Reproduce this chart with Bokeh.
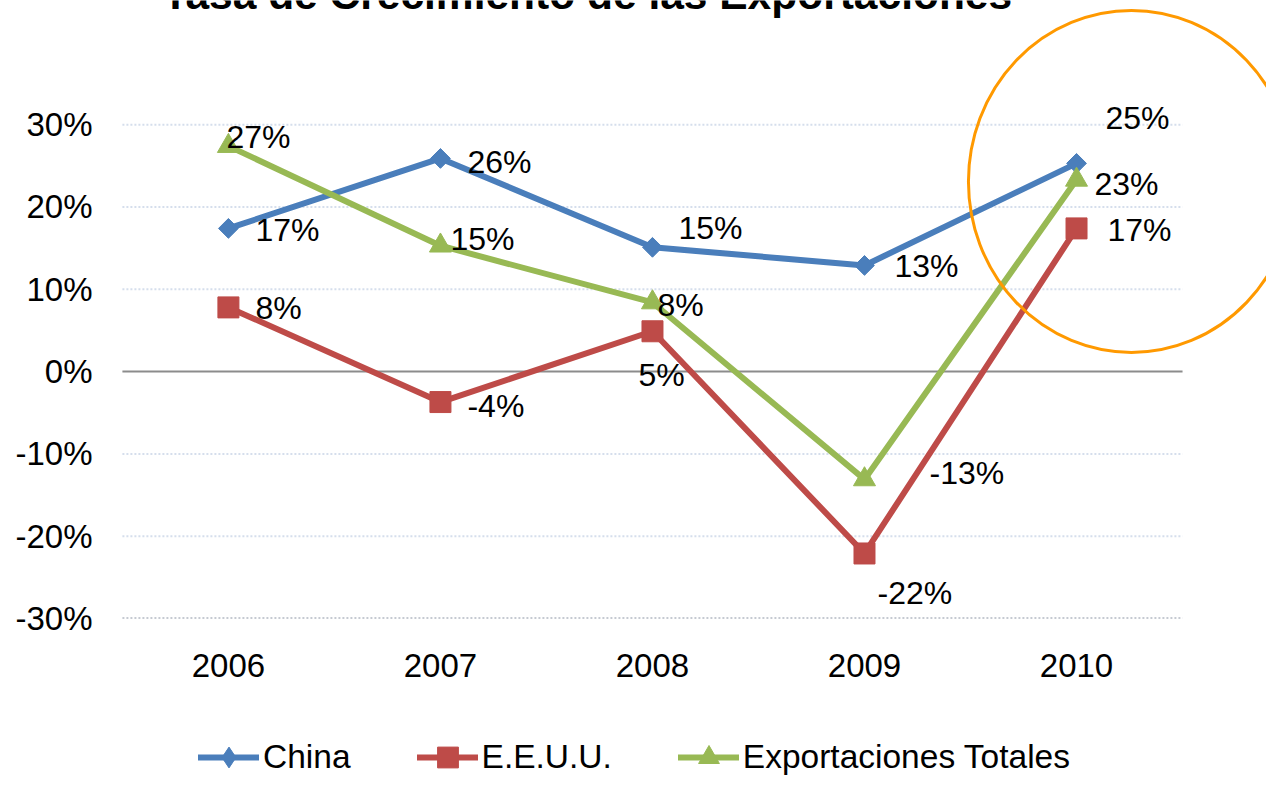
import numpy as np
from bokeh.plotting import figure
from bokeh.layouts import column
from bokeh.models import Range1d, FixedTicker, Legend, LegendItem, Label, ColumnDataSource
from bokeh.core.properties import value
from bokeh.embed import file_html
from bokeh.resources import INLINE

# ---------------- data ----------------
TITLE = "Tasa de Crecimiento de las Exportaciones"
years = ["2006", "2007", "2008", "2009", "2010"]
series_names = ["China", "E.E.U.U.", "Exportaciones Totales"]
china = [17.4, 25.9, 15.1, 12.9, 25.3]
eeuu = [7.8, -3.7, 4.9, -22.1, 17.4]
total = [27.4, 15.3, 8.4, -13.1, 23.3]
y_ticks = [-30, -20, -10, 0, 10, 20, 30]
y_tick_labels = ["-30%", "-20%", "-10%", "0%", "10%", "20%", "30%"]

# ---------------- styles ----------------
FONT = "Liberation Sans"
colors = ["#4A7EBB", "#BE4B48", "#98B954"]
markers = [dict(marker="square", angle=np.pi / 4, size=14),
           dict(marker="square", angle=0.0, size=21),
           dict(marker="triangle", angle=0.0, size=22)]
legend_markers = ["diamond", "square", "triangle"]
# data-label pixel offsets (dx, dy) relative to each point
label_offsets = [
    [(27, 2), (27, 4), (26, -19), (30, 1), (29, -45)],
    [(27, 1), (27, 4), (-14, 44), (13, 40), (31, 2)],
    [(-2, -9), (10, -7), (5, 3), (65, -6), (18, 4)],
]

W = 1266
H_MAIN, H_LEG = 736, 40
p = figure(width=W, height=H_MAIN, output_backend="svg", toolbar_location=None,
           x_range=Range1d(-0.509, 4.896), y_range=Range1d(-30, 45.09),
           min_border_left=120, min_border_right=0, min_border_top=0,
           min_border_bottom=H_MAIN - 618)
p.outline_line_color = None
p.xgrid.visible = False
p.ygrid.visible = False
p.background_fill_color = "white"
p.border_fill_color = "white"

idx = list(range(len(years)))
x_lo, x_hi = -0.5, len(years) - 0.5

# gridlines
for t in y_ticks:
    if t == 0:
        p.segment(x0=[x_lo], y0=[t], x1=[x_hi], y1=[t], line_color="#8C8C8C", line_width=2)
    elif t == min(y_ticks):
        p.segment(x0=[x_lo], y0=[t], x1=[x_hi], y1=[t], line_color="#8E96A6",
                  line_width=2, line_dash="2 2")
    else:
        p.segment(x0=[x_lo], y0=[t], x1=[x_hi], y1=[t], line_color="#D5DEEC",
                  line_width=2, line_dash="2 2")

# axes
p.xaxis.ticker = FixedTicker(ticks=idx)
p.xaxis.major_label_overrides = {i: yr for i, yr in enumerate(years)}
p.yaxis.ticker = FixedTicker(ticks=y_ticks)
p.yaxis.major_label_overrides = {t: lab for t, lab in zip(y_ticks, y_tick_labels)}
for ax in (p.xaxis[0], p.yaxis[0]):
    ax.axis_line_color = None
    ax.major_tick_line_color = None
    ax.minor_tick_line_color = None
    ax.major_tick_in = 0
    ax.major_tick_out = 0
    ax.minor_tick_in = 0
    ax.minor_tick_out = 0
    ax.major_label_text_font = FONT
    ax.major_label_text_font_size = "33px"
    ax.major_label_text_color = "black"
p.yaxis.major_label_standoff = 28
p.xaxis.major_label_standoff = 35

# legend strip (separate figure below the chart)
lg = figure(width=W, height=H_LEG, output_backend="svg", toolbar_location=None,
            x_range=Range1d(0, 1), y_range=Range1d(1000, 1001),
            x_axis_type=None, y_axis_type=None,
            min_border_left=0, min_border_right=0, min_border_top=0, min_border_bottom=0)
lg.outline_line_color = None
lg.xgrid.visible = False
lg.ygrid.visible = False

# series
all_series = [china, eeuu, total]
items = []
sources = []
for name, vals, col, mk, lmk, offs in zip(series_names, all_series, colors, markers,
                                          legend_markers, label_offsets):
    src = ColumnDataSource(dict(
        x=idx, y=vals,
        label=[f"{v:.0f}%" for v in vals],
        dx=[o[0] for o in offs], dy=[o[1] for o in offs],
    ))
    sources.append(src)
    p.line(x="x", y="y", source=src, line_color=col, line_width=6,
           line_join="round", line_cap="round")
    p.scatter(x="x", y="y", source=src, marker=mk["marker"], angle=mk["angle"],
              size=mk["size"], fill_color=col, line_color=col, line_width=1)
    # same series in the legend strip (out of its visible range; only the key shows)
    rl = lg.line(x="x", y="y", source=src, line_color=col, line_width=6, line_cap="round")
    rm = lg.scatter(x="x", y="y", source=src, marker=lmk,
                    fill_color=col, line_color=col, line_width=1)
    items.append(LegendItem(label=name, renderers=[rl, rm]))

for src in sources:
    p.text(x="x", y="y", text="label", x_offset="dx", y_offset="dy", source=src,
           text_font=value(FONT), text_font_size="32px", text_color="black",
           text_align="left", text_baseline="middle")

# highlight ellipse around the last year
p.ellipse(x=[idx[-1] + 0.259], y=[23.1], width=326, height=342,
          width_units="screen", height_units="screen",
          fill_color=None, line_color="#FF9900", line_width=3)

# title (cut at the top, as in the original)
p.add_layout(Label(x=1.693, y=45.8, text=TITLE, text_font=FONT, text_font_style="bold",
                   text_font_size="42.5px", text_color="black",
                   text_align="center", text_baseline="alphabetic"))

legend = Legend(items=items, orientation="horizontal", location=(78, -7),
                glyph_width=61, glyph_height=52, label_standoff=4, spacing=66,
                padding=0, margin=0, border_line_color=None, background_fill_alpha=0,
                label_text_font=FONT, label_text_font_size="33.5px", label_text_color="black")
lg.add_layout(legend)

layout = column(p, lg, spacing=0)
open("out.html", "w").write(file_html(layout, INLINE))
